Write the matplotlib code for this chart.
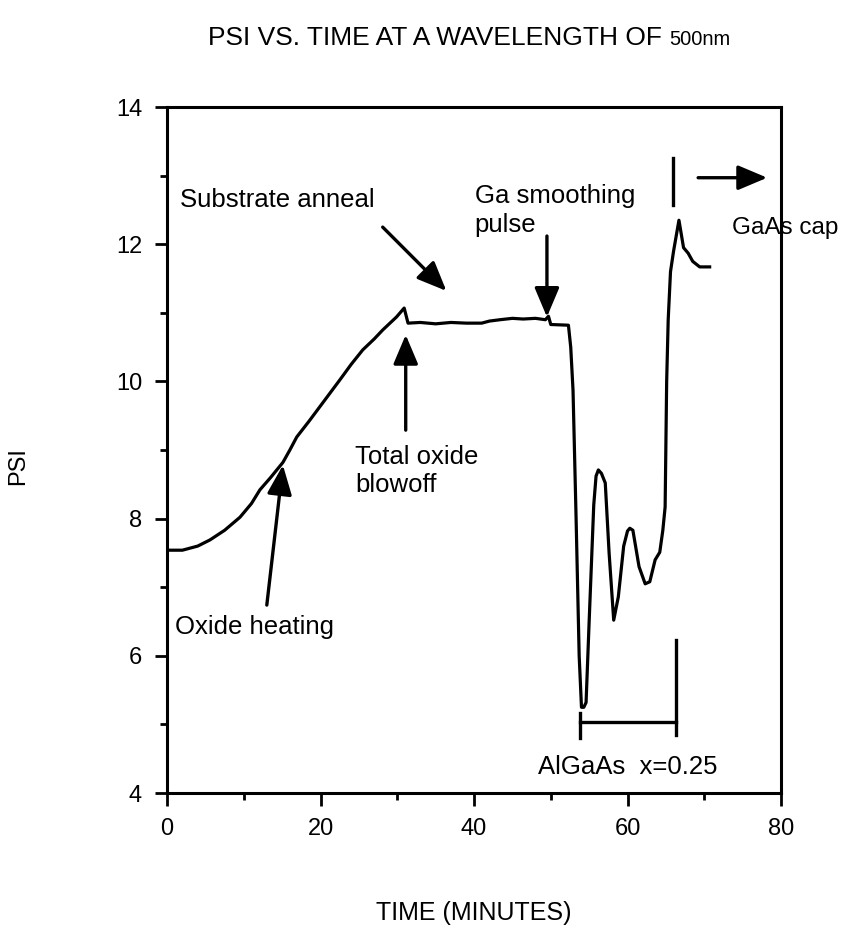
import matplotlib
matplotlib.use("Agg")
import matplotlib.pyplot as plt
from matplotlib.ticker import MultipleLocator

plt.rcParams['font.family'] = ['Liberation Sans', 'DejaVu Sans']

# PSI trace (time in minutes)
time = [0, 2.0, 4.0, 5.6, 7.5, 9.5, 11.0, 12.1, 13.5, 15.1, 16.0, 16.9, 18.5, 19.9, 22.5, 24.0,
        25.5, 27.0, 28.1, 29.9, 30.9, 31.4, 33.0, 35.0, 37.0, 39.0, 41.0, 42.0,
        43.4, 45.0, 46.4, 48.0, 49.3, 49.7, 50.0, 52.3, 52.6, 52.9, 53.3, 53.7,
        54.0, 54.3, 54.6, 55.0, 55.6, 55.9, 56.2, 56.6, 57.1, 57.6, 58.2, 58.8, 59.5, 60.0,
        60.3, 60.7, 61.5, 62.3, 62.9, 63.6, 64.2, 64.6, 64.9, 65.1, 65.3, 65.6, 66.0,
        66.7, 67.3, 67.9, 68.5, 69.4, 70.7]
psi = [7.54, 7.54, 7.60, 7.69, 7.83, 8.02, 8.22, 8.42, 8.60, 8.82, 9.00, 9.19, 9.42, 9.63, 10.02, 10.25,
       10.46, 10.62, 10.75, 10.94, 11.07, 10.85, 10.86, 10.84, 10.86, 10.85, 10.85, 10.88,
       10.90, 10.92, 10.91, 10.92, 10.90, 10.95, 10.83, 10.82, 10.50, 9.87, 8.00, 6.00,
       5.25, 5.25, 5.32, 6.50, 8.20, 8.62, 8.71, 8.66, 8.52, 7.50, 6.52, 6.86, 7.60, 7.82,
       7.86, 7.83, 7.30, 7.05, 7.08, 7.40, 7.51, 7.83, 8.17, 10.00, 10.90, 11.60, 11.90,
       12.35, 11.95, 11.87, 11.75, 11.67, 11.67]

x_ticks = [0, 20, 40, 60, 80]
y_ticks = [4, 6, 8, 10, 12, 14]

# AlGaAs layer span and GaAs cap start
algaas_start, algaas_end = 53.8, 66.3
cap_start = 65.9

fig = plt.figure(figsize=(8.47, 9.31), dpi=100)
ax = fig.add_axes([0.1972, 0.1482, 0.7249, 0.7368])

ax.plot(time, psi, color='black', lw=2.3, solid_joinstyle='round')

ax.set_xlim(0, 80)
ax.set_ylim(4, 14)
ax.set_xticks(x_ticks)
ax.set_yticks(y_ticks)
ax.xaxis.set_minor_locator(MultipleLocator(10))
ax.yaxis.set_minor_locator(MultipleLocator(1))
ax.tick_params(which='major', direction='out', length=9, width=2, labelsize=17, pad=9)
ax.tick_params(which='minor', direction='out', length=5, width=2)
for s in ax.spines.values():
    s.set_linewidth(2.2)

ax.set_xlabel('TIME (MINUTES)', fontsize=18)
ax.xaxis.set_label_coords(0.5, -0.158)
ax.set_ylabel('PSI', fontsize=17)
ax.yaxis.set_label_coords(-0.224, 0.477)

arrow = dict(arrowstyle='-|>,head_length=0.9,head_width=0.38', mutation_scale=20,
             lw=2.4, color='black', shrinkA=0, shrinkB=0)
fs = 18.5

ax.text(1.7, 12.64, 'Substrate anneal', fontsize=fs, va='center')
ax.annotate('', xy=(36.4, 11.32), xytext=(28.1, 12.25), arrowprops=arrow)

ax.text(40.1, 12.88, 'Ga smoothing\npulse', fontsize=fs, va='top', linespacing=1.25)
ax.annotate('', xy=(49.5, 10.94), xytext=(49.5, 12.12), arrowprops=arrow)

ax.text(24.5, 9.08, 'Total oxide\nblowoff', fontsize=fs, va='top', linespacing=1.25)
ax.annotate('', xy=(31.1, 10.68), xytext=(31.1, 9.29), arrowprops=arrow)

ax.text(1.0, 6.42, 'Oxide heating', fontsize=fs, va='center')
ax.annotate('', xy=(15.1, 8.78), xytext=(13.0, 6.74), arrowprops=arrow)

# GaAs cap marker
ax.plot([cap_start, cap_start], [12.57, 13.26], color='black', lw=2.4)
ax.annotate('', xy=(78.2, 12.97), xytext=(69.2, 12.97), arrowprops=arrow)
ax.text(73.6, 12.24, 'GaAs cap', fontsize=17.5, va='center', clip_on=False)

# AlGaAs bracket
ax.plot([algaas_start, algaas_end], [5.04, 5.04], color='black', lw=2.4)
ax.plot([algaas_start, algaas_start], [4.80, 5.17], color='black', lw=2.4)
ax.plot([algaas_end, algaas_end], [4.85, 6.23], color='black', lw=2.4)
ax.text((algaas_start + algaas_end) / 2, 4.38, 'AlGaAs  x=0.25', fontsize=fs,
        ha='center', va='center')

# title with the wavelength in a smaller size
narrow = ['Liberation Sans Narrow', 'Liberation Sans']
t1 = fig.text(0.245, 0.959, 'PSI VS. TIME AT A WAVELENGTH OF ',
              fontsize=19, va='center', family=narrow)
fig.canvas.draw()
bb = t1.get_window_extent()
fig.text(bb.x1 / fig.bbox.width, 0.958, '500nm', fontsize=14.5, va='center', family=narrow)

fig.savefig('out.png', dpi=100)
